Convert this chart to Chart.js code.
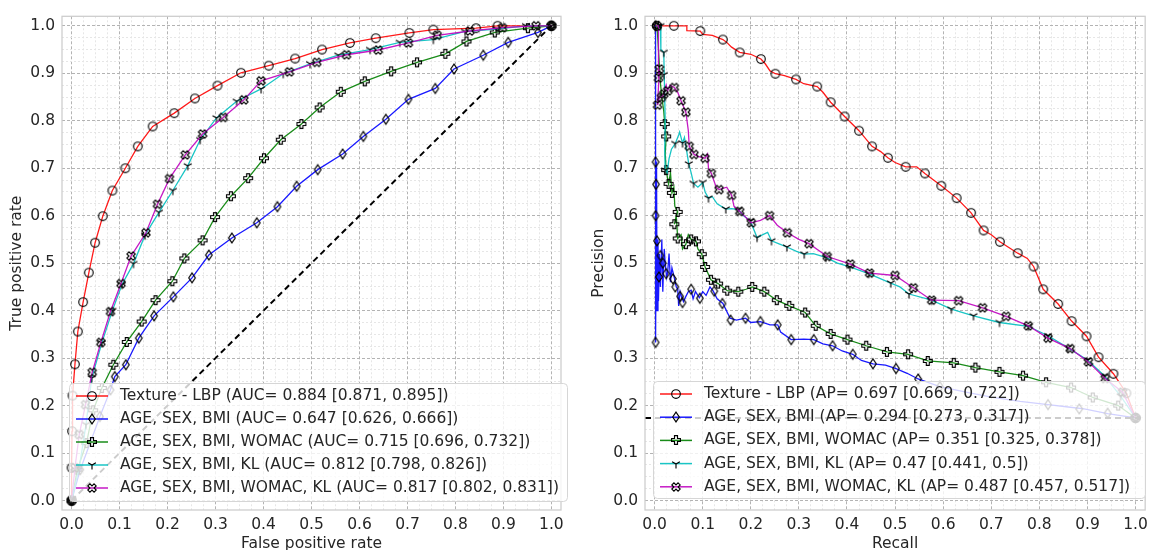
<!DOCTYPE html>
<html>
<head>
<meta charset="utf-8">
<script src="https://cdn.jsdelivr.net/npm/chart.js@4.4.0/dist/chart.umd.min.js"></script>
<style>
  html, body { margin: 0; padding: 0; background: #fff; }
  #wrap { position: relative; width: 1154px; height: 550px; overflow: hidden; }
  canvas { position: absolute; top: 0; }
  #roc { left: 0; }
  #pr { left: 577px; }
</style>
</head>
<body>
<div id="wrap">
  <canvas id="roc" width="577" height="550"></canvas>
  <canvas id="pr" width="577" height="550"></canvas>
</div>
<script>
// ---- data ----
const models = ['Texture - LBP', 'AGE, SEX, BMI', 'AGE, SEX, BMI, WOMAC', 'AGE, SEX, BMI, KL', 'AGE, SEX, BMI, WOMAC, KL'];
const aucText = ['0.884 [0.871, 0.895]', '0.647 [0.626, 0.666]', '0.715 [0.696, 0.732]', '0.812 [0.798, 0.826]', '0.817 [0.802, 0.831]'];
const apText = ['0.697 [0.669, 0.722]', '0.294 [0.273, 0.317]', '0.351 [0.325, 0.378]', '0.47 [0.441, 0.5]', '0.487 [0.457, 0.517]'];
const tickLabels = ['0.0', '0.1', '0.2', '0.3', '0.4', '0.5', '0.6', '0.7', '0.8', '0.9', '1.0'];
const prevalence = 0.174;

// ROC curves [fpr, tpr] (markers sit on these points)
const rocLbp = [[0,0],[0.0,0.069],[0.001,0.146],[0.002,0.221],[0.007,0.287],[0.013,0.356],[0.024,0.418],[0.036,0.480],[0.049,0.543],[0.065,0.599],[0.085,0.653],[0.112,0.700],[0.138,0.746],[0.169,0.788],[0.214,0.816],[0.257,0.847],[0.304,0.874],[0.353,0.901],[0.411,0.916],[0.466,0.931],[0.522,0.950],[0.580,0.964],[0.634,0.974],[0.704,0.985],[0.754,0.992],[0.843,0.995],[0.888,1.0],[1,1]];
const rocBase = [[0,0],[0.018,0.065],[0.059,0.177],[0.081,0.233],[0.090,0.261],[0.113,0.286],[0.140,0.342],[0.172,0.389],[0.212,0.429],[0.251,0.469],[0.286,0.517],[0.334,0.553],[0.386,0.585],[0.429,0.619],[0.469,0.662],[0.513,0.697],[0.565,0.730],[0.608,0.767],[0.655,0.803],[0.702,0.845],[0.758,0.868],[0.797,0.909],[0.858,0.938],[0.910,0.965],[0.972,0.986],[1,1]];
const rocWomac = [[0,0],[0.012,0.065],[0.031,0.121],[0.045,0.190],[0.063,0.237],[0.087,0.286],[0.115,0.334],[0.146,0.377],[0.175,0.422],[0.210,0.462],[0.235,0.510],[0.273,0.548],[0.299,0.597],[0.332,0.641],[0.368,0.679],[0.401,0.721],[0.436,0.760],[0.479,0.793],[0.517,0.828],[0.561,0.861],[0.611,0.883],[0.666,0.904],[0.720,0.923],[0.779,0.941],[0.823,0.967],[0.882,0.986],[0.951,0.995],[1,1]];
const rocKl = [[0,0],[0.016,0.070],[0.030,0.160],[0.042,0.258],[0.063,0.332],[0.085,0.400],[0.105,0.455],[0.129,0.499],[0.153,0.559],[0.182,0.607],[0.211,0.653],[0.242,0.705],[0.268,0.760],[0.302,0.806],[0.344,0.841],[0.395,0.867],[0.441,0.899],[0.497,0.920],[0.556,0.938],[0.622,0.950],[0.684,0.965],[0.754,0.971],[0.820,0.988],[0.885,0.993],[0.947,1.0],[1,1]];
const rocAll = [[0,0],[0.007,0.069],[0.016,0.139],[0.029,0.202],[0.043,0.270],[0.061,0.333],[0.081,0.398],[0.103,0.457],[0.124,0.515],[0.155,0.564],[0.179,0.624],[0.204,0.678],[0.237,0.728],[0.273,0.772],[0.316,0.807],[0.359,0.844],[0.395,0.884],[0.454,0.903],[0.511,0.923],[0.573,0.939],[0.639,0.949],[0.702,0.964],[0.762,0.980],[0.830,0.989],[0.898,0.996],[0.968,1.0],[1,1]];

// Precision-recall curves [recall, precision]
const prLbp = [[0,1.0],[0.067,1.0],[0.067,0.99],[0.095,0.989],[0.1,0.982],[0.12,0.98],[0.142,0.971],[0.15,0.965],[0.16,0.955],[0.177,0.944],[0.2,0.94],[0.221,0.93],[0.23,0.92],[0.24,0.905],[0.251,0.899],[0.27,0.895],[0.294,0.887],[0.31,0.878],[0.338,0.872],[0.35,0.86],[0.366,0.839],[0.395,0.809],[0.425,0.779],[0.452,0.746],[0.47,0.735],[0.485,0.722],[0.5,0.712],[0.522,0.703],[0.545,0.703],[0.562,0.689],[0.58,0.675],[0.596,0.663],[0.628,0.637],[0.658,0.606],[0.684,0.569],[0.7,0.56],[0.718,0.545],[0.755,0.521],[0.775,0.51],[0.788,0.493],[0.808,0.445],[0.839,0.414],[0.867,0.378],[0.898,0.346],[0.923,0.302],[0.954,0.267],[0.981,0.226],[1.0,0.174]];
const prLbpMarks = [[0.040,1.0],[0.095,0.989],[0.142,0.971],[0.177,0.944],[0.221,0.930],[0.251,0.899],[0.294,0.887],[0.338,0.872],[0.366,0.839],[0.395,0.809],[0.425,0.779],[0.452,0.746],[0.485,0.722],[0.522,0.703],[0.562,0.689],[0.596,0.663],[0.628,0.637],[0.658,0.606],[0.684,0.569],[0.718,0.545],[0.755,0.521],[0.788,0.493],[0.808,0.445],[0.839,0.414],[0.867,0.378],[0.898,0.346],[0.923,0.302],[0.954,0.267],[0.981,0.226],[1.0,0.174]];
const prBase = [[0.0,1.0],[0.002,1.0],[0.002,0.333],[0.004,0.714],[0.005,0.40],[0.007,0.55],[0.008,0.42],[0.010,0.519],[0.012,0.45],[0.015,0.55],[0.017,0.44],[0.020,0.53],[0.022,0.50],[0.025,0.47],[0.027,0.479],[0.030,0.52],[0.033,0.46],[0.036,0.49],[0.041,0.469],[0.045,0.45],[0.048,0.446],[0.050,0.41],[0.053,0.44],[0.056,0.429],[0.060,0.419],[0.065,0.43],[0.070,0.44],[0.076,0.443],[0.080,0.425],[0.085,0.44],[0.093,0.427],[0.100,0.44],[0.107,0.432],[0.115,0.45],[0.122,0.441],[0.130,0.425],[0.142,0.415],[0.157,0.384],[0.170,0.38],[0.189,0.384],[0.200,0.375],[0.220,0.377],[0.240,0.37],[0.256,0.37],[0.262,0.355],[0.284,0.339],[0.310,0.34],[0.331,0.339],[0.350,0.33],[0.370,0.326],[0.390,0.315],[0.412,0.308],[0.430,0.295],[0.454,0.288],[0.480,0.285],[0.502,0.278],[0.525,0.268],[0.548,0.256],[0.593,0.240],[0.650,0.228],[0.700,0.218],[0.760,0.209],[0.818,0.202],[0.860,0.197],[0.893,0.193],[0.942,0.183],[1.0,0.174]];
const prBaseMarks = [[0.002,1.0],[0.002,0.713],[0.003,0.666],[0.002,0.600],[0.005,0.547],[0.009,0.471],[0.002,0.333],[0.012,0.516],[0.017,0.500],[0.024,0.478],[0.038,0.467],[0.043,0.450],[0.053,0.430],[0.058,0.417],[0.076,0.445],[0.094,0.426],[0.124,0.441],[0.141,0.415],[0.158,0.380],[0.189,0.384],[0.220,0.377],[0.256,0.370],[0.284,0.339],[0.331,0.339],[0.370,0.326],[0.412,0.308],[0.454,0.288],[0.502,0.278],[0.548,0.256],[0.593,0.240],[0.818,0.202],[0.883,0.193],[0.942,0.184],[1.0,0.174]];
const prWomac = [[0.005,1.0],[0.008,0.95],[0.012,0.88],[0.015,0.85],[0.019,0.82],[0.021,0.793],[0.024,0.767],[0.022,0.73],[0.024,0.696],[0.029,0.667],[0.033,0.69],[0.036,0.648],[0.040,0.66],[0.042,0.62],[0.048,0.608],[0.041,0.582],[0.045,0.60],[0.048,0.552],[0.055,0.56],[0.058,0.53],[0.065,0.540],[0.070,0.56],[0.076,0.550],[0.082,0.548],[0.086,0.546],[0.090,0.53],[0.098,0.519],[0.105,0.492],[0.117,0.465],[0.132,0.457],[0.151,0.442],[0.174,0.440],[0.190,0.445],[0.203,0.450],[0.228,0.440],[0.254,0.422],[0.280,0.410],[0.313,0.396],[0.335,0.368],[0.366,0.351],[0.401,0.339],[0.440,0.326],[0.483,0.313],[0.527,0.308],[0.568,0.294],[0.622,0.290],[0.667,0.280],[0.717,0.271],[0.766,0.263],[0.814,0.249],[0.866,0.238],[0.911,0.217],[0.964,0.200],[1.0,0.174]];
const prWomacMarks = [[0.005,1.0],[0.021,0.793],[0.024,0.767],[0.024,0.696],[0.029,0.667],[0.036,0.648],[0.048,0.608],[0.041,0.582],[0.048,0.552],[0.065,0.540],[0.076,0.550],[0.086,0.546],[0.098,0.519],[0.105,0.492],[0.117,0.465],[0.132,0.457],[0.151,0.442],[0.174,0.440],[0.203,0.450],[0.228,0.440],[0.254,0.422],[0.280,0.410],[0.313,0.396],[0.335,0.368],[0.366,0.351],[0.401,0.339],[0.440,0.326],[0.483,0.313],[0.527,0.308],[0.568,0.294],[0.622,0.290],[0.667,0.280],[0.717,0.271],[0.766,0.263],[0.814,0.249],[0.866,0.238],[0.911,0.217],[0.964,0.200],[1.0,0.174]];
const prKl = [[0.005,1.0],[0.012,1.0],[0.013,0.95],[0.019,0.944],[0.020,0.897],[0.022,0.80],[0.021,0.74],[0.022,0.696],[0.026,0.69],[0.030,0.72],[0.035,0.74],[0.043,0.752],[0.050,0.77],[0.052,0.776],[0.058,0.753],[0.062,0.765],[0.066,0.74],[0.071,0.709],[0.076,0.69],[0.081,0.668],[0.090,0.66],[0.100,0.670],[0.105,0.65],[0.112,0.637],[0.120,0.64],[0.130,0.625],[0.148,0.614],[0.160,0.615],[0.174,0.613],[0.185,0.60],[0.199,0.589],[0.213,0.554],[0.225,0.56],[0.235,0.565],[0.243,0.547],[0.260,0.54],[0.275,0.534],[0.295,0.525],[0.311,0.519],[0.330,0.52],[0.356,0.512],[0.380,0.50],[0.406,0.492],[0.445,0.478],[0.491,0.458],[0.510,0.45],[0.529,0.435],[0.576,0.422],[0.617,0.403],[0.663,0.389],[0.717,0.375],[0.777,0.367],[0.818,0.347],[0.859,0.322],[0.900,0.296],[0.935,0.263],[0.969,0.220],[1.0,0.174]];
const prKlMarks = [[0.012,1.0],[0.019,0.944],[0.019,0.897],[0.022,0.696],[0.043,0.752],[0.058,0.753],[0.071,0.709],[0.081,0.668],[0.100,0.670],[0.112,0.637],[0.148,0.614],[0.174,0.613],[0.199,0.589],[0.213,0.554],[0.243,0.547],[0.275,0.534],[0.311,0.519],[0.356,0.512],[0.406,0.492],[0.445,0.478],[0.491,0.458],[0.529,0.435],[0.576,0.422],[0.617,0.403],[0.663,0.389],[0.717,0.375],[0.777,0.367],[0.818,0.347],[0.859,0.322],[0.900,0.296],[0.935,0.263],[0.969,0.220],[1.0,0.174]];
const prAll = [[0.005,1.0],[0.008,1.0],[0.008,0.889],[0.010,0.908],[0.006,0.833],[0.010,0.85],[0.014,0.849],[0.019,0.856],[0.024,0.875],[0.027,0.863],[0.032,0.875],[0.041,0.870],[0.048,0.86],[0.055,0.842],[0.065,0.818],[0.070,0.78],[0.072,0.746],[0.082,0.729],[0.090,0.725],[0.105,0.721],[0.110,0.73],[0.112,0.70],[0.118,0.689],[0.128,0.66],[0.134,0.655],[0.150,0.66],[0.160,0.643],[0.165,0.62],[0.177,0.609],[0.201,0.585],[0.220,0.59],[0.239,0.600],[0.255,0.58],[0.276,0.564],[0.300,0.55],[0.321,0.541],[0.359,0.514],[0.407,0.498],[0.447,0.479],[0.500,0.474],[0.538,0.448],[0.576,0.422],[0.632,0.421],[0.682,0.406],[0.731,0.388],[0.777,0.368],[0.818,0.342],[0.864,0.320],[0.902,0.292],[0.937,0.257],[0.973,0.228],[1.0,0.174]];
const prAllMarks = [[0.005,1.0],[0.010,0.909],[0.008,0.890],[0.006,0.833],[0.014,0.849],[0.019,0.856],[0.027,0.863],[0.041,0.870],[0.055,0.842],[0.065,0.818],[0.072,0.746],[0.082,0.729],[0.105,0.721],[0.118,0.689],[0.134,0.655],[0.160,0.643],[0.177,0.609],[0.201,0.585],[0.239,0.600],[0.276,0.564],[0.321,0.541],[0.359,0.514],[0.407,0.498],[0.447,0.479],[0.500,0.474],[0.538,0.448],[0.576,0.422],[0.632,0.421],[0.682,0.406],[0.731,0.388],[0.777,0.368],[0.818,0.342],[0.864,0.320],[0.902,0.292],[0.937,0.257],[0.973,0.228],[1.0,0.174]];

// ---- styling ----
const seriesColors = ['rgba(255,0,0,0.9)', 'rgba(0,0,255,0.9)', 'rgba(0,128,0,0.9)', 'rgba(0,191,191,0.9)', 'rgba(191,0,191,0.9)'];
const markerKinds = ['o', 'd', 'P', '1', 'X'];
const FONT = { family: 'DejaVu Sans', size: 15.5 };
const TEXT = '#262626';

// hollow matplotlib-like markers drawn once into small canvases
function makeMarker(kind) {
    const c = document.createElement('canvas');
    c.width = 14; c.height = 14;
    const g = c.getContext('2d');
    g.translate(7, 7);
    g.strokeStyle = '#000';
    g.lineWidth = 1.15;
    g.beginPath();
    const poly = pts => { pts.forEach((p, i) => i ? g.lineTo(p[0], p[1]) : g.moveTo(p[0], p[1])); g.closePath(); };
    const a = 1.5, e = 4.4;
    const plus = [[-a,-e],[a,-e],[a,-a],[e,-a],[e,a],[a,a],[a,e],[-a,e],[-a,a],[-e,a],[-e,-a],[-a,-a]];
    if (kind === 'o') g.arc(0, 0, 4.3, 0, Math.PI * 2);
    else if (kind === 'd') poly([[0,-4.9],[3.3,0],[0,4.9],[-3.3,0]]);
    else if (kind === 'P') poly(plus);
    else if (kind === 'X') {
        const r = Math.SQRT1_2;
        poly(plus.map(p => [(p[0] - p[1]) * r, (p[0] + p[1]) * r]));
    } else if (kind === '1') {
        g.moveTo(0, 0); g.lineTo(0, 4.5);
        g.moveTo(0, 0); g.lineTo(-3.9, -2.3);
        g.moveTo(0, 0); g.lineTo(3.9, -2.3);
    }
    g.stroke();
    return c;
}
const markerImgs = markerKinds.map(makeMarker);

// major grid every 0.1, minor every 0.025
const gridValues = [];
for (let i = 0; i <= 40; i++) gridValues.push(i / 40);
const isMajor = v => Math.abs(v * 10 - Math.round(v * 10)) < 1e-6;

function axis(title, isX, size, titlePad) {
    return {
        type: 'linear',
        min: -0.02,
        max: 1.02,
        afterBuildTicks: s => { s.ticks = gridValues.map(v => ({ value: v })); },
        afterFit: s => { if (isX) s.height = size; else s.width = size; },
        grid: {
            drawTicks: false,
            lineWidth: 1,
            color: c => (c.tick && isMajor(c.tick.value)) ? '#b3b3b3' : '#e6e6e6'
        },
        border: {
            display: false,
            dash: c => (c.tick && isMajor(c.tick.value)) ? [3, 2] : [2, 2]
        },
        ticks: {
            autoSkip: false,
            maxRotation: 0,
            padding: isX ? 6 : 7,
            color: TEXT,
            font: FONT,
            callback: v => isMajor(v) ? tickLabels[Math.round(v * 10)] : ''
        },
        title: { display: true, text: title, color: TEXT, font: FONT, padding: titlePad }
    };
}

const toXY = pts => pts.map(p => ({ x: p[0], y: p[1] }));

function curveSets(lines, marks) {
    const sets = [];
    let order = 1000;
    lines.forEach((pts, i) => {
        sets.push({ data: toXY(pts), borderColor: seriesColors[i], borderWidth: 1.3, pointRadius: 0, tension: 0, fill: false, order: order-- });
        sets.push({ data: toXY(marks[i]), showLine: false, pointStyle: markerImgs[i], pointRadius: 5, order: order-- });
    });
    return sets;
}

const framePlugin = {
    id: 'frame',
    afterDatasetsDraw(chart) {
        const a = chart.chartArea, ctx = chart.ctx;
        ctx.save();
        ctx.strokeStyle = '#cccccc';
        ctx.lineWidth = 1.25;
        ctx.strokeRect(a.left, a.top, a.right - a.left, a.bottom - a.top);
        ctx.restore();
    }
};

const boxLegend = {
    id: 'boxLegend',
    afterDraw(chart, args, o) {
        const ctx = chart.ctx;
        ctx.save();
        ctx.beginPath();
        ctx.roundRect(o.x, o.y, o.w, o.h, 4);
        ctx.fillStyle = 'rgba(255,255,255,0.8)';
        ctx.fill();
        ctx.strokeStyle = '#d6d6d6';
        ctx.lineWidth = 1;
        ctx.stroke();
        ctx.font = FONT.size + 'px "' + FONT.family + '"';
        ctx.textBaseline = 'middle';
        o.labels.forEach((txt, i) => {
            const y = o.rowY + i * o.rowStep;
            ctx.strokeStyle = seriesColors[i];
            ctx.lineWidth = 1.5;
            ctx.beginPath();
            ctx.moveTo(o.hx0, y);
            ctx.lineTo(o.hx1, y);
            ctx.stroke();
            const img = markerImgs[i];
            ctx.drawImage(img, Math.round((o.hx0 + o.hx1) / 2) - img.width / 2, Math.round(y) - img.height / 2);
            ctx.fillStyle = TEXT;
            ctx.fillText(txt, o.tx, y);
        });
        ctx.restore();
    }
};

// ---- ROC ----
const rocSets = curveSets([rocLbp, rocBase, rocWomac, rocKl, rocAll], [rocLbp, rocBase, rocWomac, rocKl, rocAll]);
rocSets.push({ data: toXY([[0, 0], [1, 1]]), borderColor: '#000', borderWidth: 2, borderDash: [6, 4], pointRadius: 0, order: 0 });

new Chart(document.getElementById('roc'), {
    type: 'line',
    data: { datasets: rocSets },
    plugins: [framePlugin, boxLegend],
    options: {
        responsive: false,
        animation: false,
        events: [],
        layout: { padding: { top: 15, right: 16, left: 0, bottom: 0 } },
        scales: {
            x: axis('False positive rate', true, 40, { top: 0, bottom: -3 }),
            y: axis('True positive rate', false, 62, { top: 8, bottom: 0 })
        },
        plugins: {
            legend: { display: false },
            tooltip: { enabled: false },
            boxLegend: {
                x: 69.5, y: 383.5, w: 498, h: 118,
                rowY: 396, rowStep: 23, hx0: 76, hx1: 108, tx: 120,
                labels: models.map((m, i) => m + ' (AUC= ' + aucText[i] + ')')
            }
        }
    }
});

// ---- Precision-recall ----
const prSets = curveSets([prLbp, prBase, prWomac, prKl, prAll], [prLbpMarks, prBaseMarks, prWomacMarks, prKlMarks, prAllMarks]);
prSets.push({ data: toXY([[-0.02, prevalence], [1.02, prevalence]]), borderColor: '#000', borderWidth: 2, borderDash: [6, 4], pointRadius: 0, order: 0 });

new Chart(document.getElementById('pr'), {
    type: 'line',
    data: { datasets: prSets },
    plugins: [framePlugin, boxLegend],
    options: {
        responsive: false,
        animation: false,
        events: [],
        layout: { padding: { top: 9, right: 5, left: 0, bottom: 0 } },
        scales: {
            x: axis('Recall', true, 40, { top: 0, bottom: -3 }),
            y: axis('Precision', false, 68, { top: 13, bottom: 0 })
        },
        plugins: {
            legend: { display: false },
            tooltip: { enabled: false },
            boxLegend: {
                x: 76.5, y: 381.5, w: 492, h: 117,
                rowY: 394, rowStep: 23.2, hx0: 83, hx1: 115, tx: 127,
                labels: models.map((m, i) => m + ' (AP= ' + apText[i] + ')')
            }
        }
    }
});
</script>
</body>
</html>
